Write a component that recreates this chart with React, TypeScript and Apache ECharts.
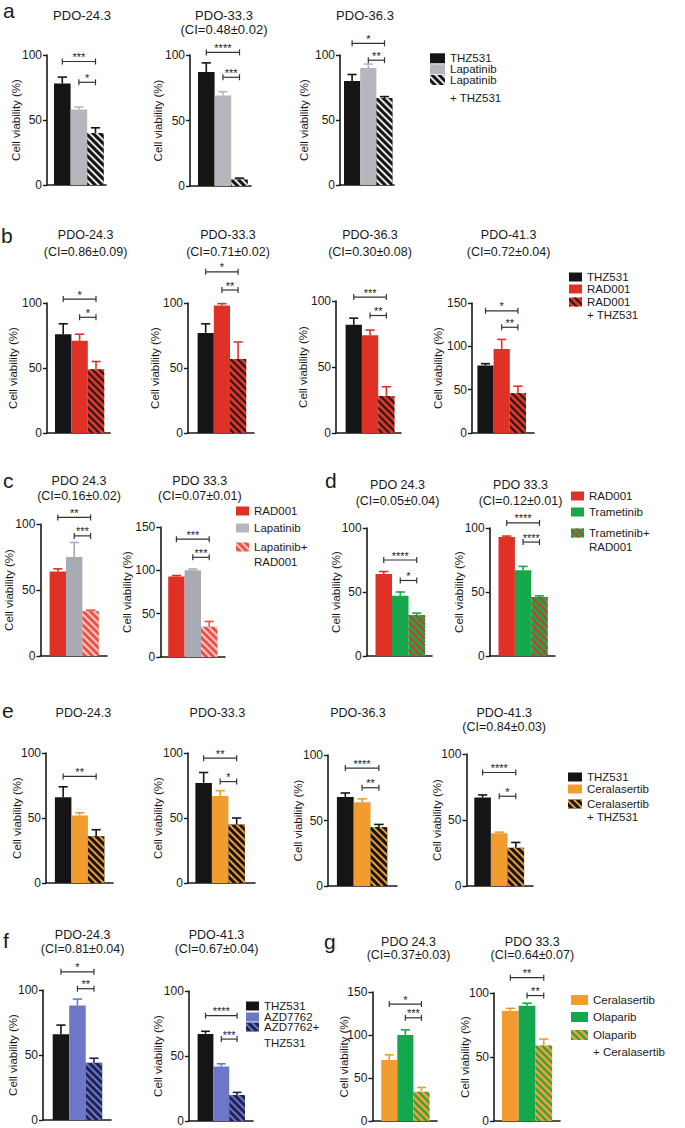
import React, { useEffect, useRef } from "react";
import * as echarts from "echarts";

// ---------------- DATA ----------------
// Panel a
const A_NAMES = ["THZ531", "Lapatinib", "Lapatinib\n+ THZ531"];
const A_TITLES = ["PDO-24.3", "PDO-33.3\n(CI=0.48±0.02)", "PDO-36.3"];
const A_MEANS = [[78, 58, 40], [87, 69, 5], [80, 90, 67]];
const A_ERRS = [[5, 2, 4], [7, 3, 1], [5, 3, 1]];
const A_SIGS: any[] = [
  [[0, 2, 95, "***"], [1, 2, 79, "*"]],
  [[0, 2, 102, "****"], [1, 2, 83, "***"]],
  [[0, 2, 109, "*"], [1, 2, 96, "**"]],
];
const A_YMAX = [100, 100, 100];

// Panel b
const B_NAMES = ["THZ531", "RAD001", "RAD001\n+ THZ531"];
const B_TITLES = ["PDO-24.3\n(CI=0.86±0.09)", "PDO-33.3\n(CI=0.71±0.02)", "PDO-36.3\n(CI=0.30±0.08)", "PDO-41.3\n(CI=0.72±0.04)"];
const B_MEANS = [[76, 71, 49], [77, 98, 57], [82, 74, 28], [78, 97, 46]];
const B_ERRS = [[8, 5, 6], [7, 1.5, 13], [5, 4, 7], [2, 11, 8]];
const B_SIGS: any[] = [
  [[0, 2, 103, "*"], [1, 2, 89, "*"]],
  [[0, 2, 124, "*"], [1, 2, 110, "**"]],
  [[0, 2, 103, "***"], [1, 2, 89, "**"]],
  [[0, 2, 141, "*"], [1, 2, 122, "**"]],
];
const B_YMAX = [100, 100, 100, 150];

// Panel c
const C_NAMES = ["RAD001", "Lapatinib", "Lapatinib+\nRAD001"];
const C_TITLES = ["PDO 24.3\n(CI=0.16±0.02)", "PDO 33.3\n(CI=0.07±0.01)"];
const C_MEANS = [[64, 75, 34], [93, 100, 35]];
const C_ERRS = [[2, 11, 0.7], [1, 1.5, 6]];
const C_SIGS: any[] = [
  [[0, 2, 105, "**"], [1, 2, 91, "***"]],
  [[0, 2, 136, "***"], [1, 2, 115, "***"]],
];
const C_YMAX = [100, 150];

// Panel d
const D_NAMES = ["RAD001", "Trametinib", "Trametinib+\nRAD001"];
const D_TITLES = ["PDO 24.3\n(CI=0.05±0.04)", "PDO 33.3\n(CI=0.12±0.01)"];
const D_MEANS = [[64, 47, 32], [93, 67, 46]];
const D_ERRS = [[2, 3, 1.5], [0.7, 3, 1]];
const D_SIGS: any[] = [
  [[0, 2, 75, "****"], [1, 2, 59, "*"]],
  [[0, 2, 104, "****"], [1, 2, 89, "****"]],
];
const D_YMAX = [100, 100];

// Panel e
const E_NAMES = ["THZ531", "Ceralasertib", "Ceralasertib\n+ THZ531"];
const E_TITLES = ["PDO-24.3", "PDO-33.3", "PDO-36.3", "PDO-41.3\n(CI=0.84±0.03)"];
const E_MEANS = [[66, 52, 36], [77, 67, 45], [68, 64, 45], [67, 40, 29]];
const E_ERRS = [[8, 2, 5], [8, 4, 5], [3, 2.5, 2], [2, 0.8, 4]];
const E_SIGS: any[] = [
  [[0, 2, 82, "**"]],
  [[0, 2, 96, "**"], [1, 2, 78, "*"]],
  [[0, 2, 90, "****"], [1, 2, 75, "**"]],
  [[0, 2, 86, "****"], [1, 2, 68, "*"]],
];
const E_YMAX = [100, 100, 100, 100];

// Panel f
const F_NAMES = ["THZ531", "AZD7762", "AZD7762+\nTHZ531"];
const F_TITLES = ["PDO-24.3\n(CI=0.81±0.04)", "PDO-41.3\n(CI=0.67±0.04)"];
const F_MEANS = [[66, 88, 44], [67, 42, 20]];
const F_ERRS = [[7, 5, 3.5], [2, 2, 2]];
const F_SIGS: any[] = [
  [[0, 2, 114, "*"], [1, 2, 101, "**"]],
  [[0, 2, 81, "****"], [1, 2, 63, "***"]],
];
const F_YMAX = [100, 100];

// Panel g
const G_NAMES = ["Ceralasertib", "Olaparib", "Olaparib\n+ Ceralasertib"];
const G_TITLES = ["PDO 24.3\n(CI=0.37±0.03)", "PDO 33.3\n(CI=0.64±0.07)"];
const G_MEANS = [[71, 100, 34], [86, 90, 59]];
const G_ERRS = [[6, 6, 5], [2, 2, 5]];
const G_SIGS: any[] = [
  [[0, 2, 136, "*"], [1, 2, 120, "***"]],
  [[0, 2, 112, "**"], [1, 2, 98, "**"]],
];
const G_YMAX = [150, 100];

const Y_LABEL = "Cell viability (%)";
const Y_INTERVAL = 50;

// ---------------- STYLES ----------------
const FONT = '"Liberation Sans", Arial, Helvetica, sans-serif';
const INK = "#1a1a1a";
const BLACK = "#151515";
const GRAY_A = "#b6b6bc";
const GRAY_C = "#a9abb4";
const RED = "#e03127";
const RED_LIGHT = "#ec5247";
const GREEN_D = "#17a84b";
const GREEN_G = "#13a84d";
const ORANGE = "#f29b2e";
const BLUE = "#6d77c8";
const NAVY = "#1f2452";

const A_STYLES = [{ color: BLACK }, { color: GRAY_A }, { color: BLACK, stripe: "#e6e6e6" }];
const B_STYLES = [{ color: BLACK }, { color: RED }, { color: RED, stripe: "#1a1a1a" }];
const C_STYLES = [{ color: RED }, { color: GRAY_C }, { color: RED_LIGHT, stripe: "rgba(255,255,255,0.7)" }];
const D_STYLES = [{ color: RED }, { color: GREEN_D }, { color: GREEN_D, stripe: RED }];
const E_STYLES = [{ color: BLACK }, { color: ORANGE }, { color: BLACK, stripe: ORANGE }];
const F_STYLES = [{ color: BLACK }, { color: BLUE }, { color: NAVY, stripe: BLUE }];
const G_STYLES = [{ color: ORANGE }, { color: GREEN_G }, { color: ORANGE, stripe: GREEN_G }];

// ---------------- LAYOUT (px) ----------------
const A_LAYOUT = [
  { x: 47, end: 106, top: 55, y0: 185, bar0: 54, bw: 16.6, ng: 25 },
  { x: 190, end: 251, top: 55, y0: 186, bar0: 198, bw: 16.6, ng: 26 },
  { x: 340, end: 394, top: 55, y0: 185, bar0: 344, bw: 16.2, ng: 30 },
];
const B_LAYOUT = [
  { x: 47, end: 110, top: 303, y0: 433, bar0: 55, bw: 16.4, ng: 28 },
  { x: 188, end: 254, top: 303, y0: 433, bar0: 197.6, bw: 16.2, ng: 27 },
  { x: 336, end: 401, top: 301, y0: 433, bar0: 345.6, bw: 16.3, ng: 27 },
  { x: 472, end: 534, top: 303, y0: 433, bar0: 477.4, bw: 16.2, ng: 28 },
];
const C_LAYOUT = [
  { x: 40.4, end: 107, top: 524, y0: 656, bar0: 49.6, bw: 16.4, ng: 25 },
  { x: 160.3, end: 225, top: 527, y0: 657, bar0: 168.2, bw: 16.4, ng: 27 },
];
const D_LAYOUT = [
  { x: 366.7, end: 432, top: 528, y0: 656, bar0: 375.5, bw: 16.5, ng: 25 },
  { x: 489.7, end: 555, top: 528, y0: 656, bar0: 498.5, bw: 16.4, ng: 25 },
];
const E_LAYOUT = [
  { x: 46, end: 113, top: 753, y0: 883, bar0: 54.9, bw: 16.5, ng: 23 },
  { x: 188, end: 255, top: 753, y0: 883, bar0: 195.4, bw: 16.5, ng: 24 },
  { x: 328, end: 397, top: 755, y0: 886, bar0: 336.9, bw: 16.8, ng: 24 },
  { x: 466.4, end: 533, top: 754, y0: 886, bar0: 474.3, bw: 16.6, ng: 23 },
];
const F_LAYOUT = [
  { x: 43, end: 111, top: 990, y0: 1120, bar0: 52.7, bw: 16.5, ng: 24 },
  { x: 188.9, end: 253, top: 991, y0: 1121, bar0: 197.6, bw: 15.8, ng: 25 },
];
const G_LAYOUT = [
  { x: 372.4, end: 437, top: 992, y0: 1121, bar0: 381.2, bw: 16.1, ng: 22 },
  { x: 494, end: 560, top: 993, y0: 1121, bar0: 502, bw: 16.7, ng: 23 },
];

const A_TITLE_POS = [[82, 15], [224, 15], [365, 15]];
const B_TITLE_POS = [[85.6, 235], [228, 235], [370, 235], [508.6, 235]];
const C_TITLE_POS = [[79, 481], [199.8, 481]];
const D_TITLE_POS = [[397.5, 485], [520.5, 485]];
const E_TITLE_POS = [[83.4, 713], [217.4, 713], [358, 713], [504.2, 713]];
const F_TITLE_POS = [[82.6, 935], [216.5, 935]];
const G_TITLE_POS = [[408.5, 942], [532.3, 942]];

const A_LEGEND = { x: 430, w: 15, h: 10, rows: [58.3, 69.3, 80], lh2: 17.7 };
const B_LEGEND = { x: 569, w: 13, h: 9, rows: [277, 289, 302], lh2: 13 };
const C_LEGEND = { x: 236, w: 13, h: 9, rows: [511, 528, 547], lh2: 15 };
const D_LEGEND = { x: 571, w: 13, h: 9, rows: [496, 512, 533], lh2: 14 };
const E_LEGEND = { x: 568, w: 14, h: 9, rows: [777, 789, 804], lh2: 13 };
const F_LEGEND = { x: 246, w: 13, h: 9, rows: [1006, 1017, 1027], lh2: 16 };
const G_LEGEND = { x: 571, w: 17, h: 10, rows: [1000, 1017, 1035], lh2: 17 };

const PANELS = [
  { letter: "a", lp: [3, 0], names: A_NAMES, titles: A_TITLES, means: A_MEANS, errs: A_ERRS, sigs: A_SIGS, ymax: A_YMAX, styles: A_STYLES, layout: A_LAYOUT, tpos: A_TITLE_POS, tlh: 14, tfs: 13, legend: A_LEGEND },
  { letter: "b", lp: [1, 225], names: B_NAMES, titles: B_TITLES, means: B_MEANS, errs: B_ERRS, sigs: B_SIGS, ymax: B_YMAX, styles: B_STYLES, layout: B_LAYOUT, tpos: B_TITLE_POS, tlh: 17, tfs: 12.5, legend: B_LEGEND },
  { letter: "c", lp: [3, 470], names: C_NAMES, titles: C_TITLES, means: C_MEANS, errs: C_ERRS, sigs: C_SIGS, ymax: C_YMAX, styles: C_STYLES, layout: C_LAYOUT, tpos: C_TITLE_POS, tlh: 14.5, tfs: 12.5, legend: C_LEGEND },
  { letter: "d", lp: [325, 470], names: D_NAMES, titles: D_TITLES, means: D_MEANS, errs: D_ERRS, sigs: D_SIGS, ymax: D_YMAX, styles: D_STYLES, layout: D_LAYOUT, tpos: D_TITLE_POS, tlh: 15.5, tfs: 12.5, legend: D_LEGEND },
  { letter: "e", lp: [2, 700], names: E_NAMES, titles: E_TITLES, means: E_MEANS, errs: E_ERRS, sigs: E_SIGS, ymax: E_YMAX, styles: E_STYLES, layout: E_LAYOUT, tpos: E_TITLE_POS, tlh: 14, tfs: 12.5, legend: E_LEGEND },
  { letter: "f", lp: [3, 930], names: F_NAMES, titles: F_TITLES, means: F_MEANS, errs: F_ERRS, sigs: F_SIGS, ymax: F_YMAX, styles: F_STYLES, layout: F_LAYOUT, tpos: F_TITLE_POS, tlh: 14.3, tfs: 12.5, legend: F_LEGEND },
  { letter: "g", lp: [324, 931], names: G_NAMES, titles: G_TITLES, means: G_MEANS, errs: G_ERRS, sigs: G_SIGS, ymax: G_YMAX, styles: G_STYLES, layout: G_LAYOUT, tpos: G_TITLE_POS, tlh: 13.3, tfs: 12.5, legend: G_LEGEND },
];

const LEGEND_FS = 11.5;

function decalOf(stripe: string) {
  return {
    symbol: "rect",
    symbolSize: 1,
    color: stripe,
    dashArrayX: [1, 0],
    dashArrayY: [2, 2.4],
    rotation: Math.PI / 4,
  };
}

function buildOption() {
  const grid: any[] = [];
  const xAxis: any[] = [];
  const yAxis: any[] = [];
  const series: any[] = [];
  const graphic: any[] = [];
  const legend: any[] = [];
  let gi = 0;

  PANELS.forEach((p) => {
    graphic.push({
      type: "text",
      x: p.lp[0],
      y: p.lp[1],
      silent: true,
      style: { text: p.letter, fontSize: 21, lineHeight: 21, fontFamily: FONT, fill: INK, align: "left", textAlign: "left", verticalAlign: "top", textVerticalAlign: "top" },
    });

    p.means.forEach((vals: number[], c: number) => {
      const L: any = p.layout[c];
      const xmin = -0.5 - (L.bar0 - L.x) / L.bw;
      const xmax = xmin + (L.end - L.x) / L.bw;
      grid.push({ left: L.x, top: L.top, width: L.end - L.x, height: L.y0 - L.top, outerBoundsMode: "none", containLabel: false });
      xAxis.push({
        type: "value",
        gridIndex: gi,
        min: xmin,
        max: xmax,
        axisLine: { show: true, onZero: false, lineStyle: { color: INK, width: 1.6 } },
        axisTick: { show: false },
        axisLabel: { show: false },
        splitLine: { show: false },
      });
      yAxis.push({
        type: "value",
        gridIndex: gi,
        min: 0,
        max: p.ymax[c],
        interval: Y_INTERVAL,
        axisLine: { show: true, onZero: false, lineStyle: { color: INK, width: 1.6 } },
        axisTick: { show: true, inside: false, length: 4, lineStyle: { color: INK, width: 1.4 } },
        axisLabel: { show: true, fontSize: 12, color: INK, fontFamily: FONT, margin: 5 },
        splitLine: { show: false },
        name: Y_LABEL,
        nameLocation: "middle",
        nameGap: L.ng,
        nameMoveOverlap: false,
        nameTextStyle: { fontSize: 11.5, color: INK, fontFamily: FONT },
      });

      vals.forEach((v: number, i: number) => {
        const st: any = p.styles[i];
        const itemStyle: any = { color: st.color };
        if (st.stripe) itemStyle.decal = decalOf(st.stripe);
        series.push({
          type: "bar",
          name: p.names[i],
          xAxisIndex: gi,
          yAxisIndex: gi,
          data: [[i, v]],
          barWidth: L.bw,
          barGap: "-100%",
          itemStyle,
          silent: true,
          z: 2,
        });
      });

      const bw = L.bw;
      series.push({
        type: "custom",
        name: "err",
        xAxisIndex: gi,
        yAxisIndex: gi,
        silent: true,
        clip: false,
        z: 3,
        encode: { x: 0, y: 1 },
        data: vals.map((v: number, i: number) => ({ value: [i, v, p.errs[c][i]], itemStyle: { color: (p.styles[i] as any).color } })),
        renderItem: (params: any, api: any) => {
          const x = api.value(0);
          const m = api.value(1);
          const e = api.value(2);
          const a = api.coord([x, m]);
          const b = api.coord([x, m + e]);
          const hw = bw * 0.28;
          const color = api.visual("color");
          return {
            type: "group",
            children: [
              { type: "line", shape: { x1: a[0], y1: a[1], x2: b[0], y2: b[1] }, style: { stroke: color, lineWidth: 1.6 } },
              { type: "line", shape: { x1: b[0] - hw, y1: b[1], x2: b[0] + hw, y2: b[1] }, style: { stroke: color, lineWidth: 1.6 } },
            ],
          };
        },
      });

      const sigs = p.sigs[c];
      series.push({
        type: "custom",
        name: "sig",
        xAxisIndex: gi,
        yAxisIndex: gi,
        silent: true,
        clip: false,
        z: 3,
        encode: { x: [0, 1], y: 2 },
        data: sigs.map((s: any[]) => [s[0], s[1], s[2]]),
        renderItem: (params: any, api: any) => {
          const s = sigs[params.dataIndex];
          const p1 = api.coord([api.value(0), api.value(2)]);
          const p2 = api.coord([api.value(1), api.value(2)]);
          const col = "#333";
          return {
            type: "group",
            children: [
              { type: "line", shape: { x1: p1[0], y1: p1[1], x2: p2[0], y2: p2[1] }, style: { stroke: col, lineWidth: 1.2 } },
              { type: "line", shape: { x1: p1[0], y1: p1[1] - 3, x2: p1[0], y2: p1[1] + 3 }, style: { stroke: col, lineWidth: 1.2 } },
              { type: "line", shape: { x1: p2[0], y1: p2[1] - 3, x2: p2[0], y2: p2[1] + 3 }, style: { stroke: col, lineWidth: 1.2 } },
              {
                type: "text",
                style: {
                  text: s[3],
                  x: (p1[0] + p2[0]) / 2,
                  y: p1[1] + 1,
                  fontSize: 11,
                  fontFamily: FONT,
                  fill: "#222",
                  align: "center",
                  textAlign: "center",
                  verticalAlign: "bottom",
                  textVerticalAlign: "bottom",
                },
              },
            ],
          };
        },
      });

      const t = p.tpos[c];
      graphic.push({
        type: "text",
        x: t[0],
        y: t[1] - p.tlh / 2,
        silent: true,
        style: {
          text: p.titles[c],
          fontSize: p.tfs,
          lineHeight: p.tlh,
          fontFamily: FONT,
          fill: INK,
          align: "center",
          textAlign: "center",
          verticalAlign: "top",
          textVerticalAlign: "top",
        },
      });
      gi++;
    });

    // legend: one component per item so rows sit exactly where the reference has them;
    // the second line of a two-line label is written just beneath its first line.
    const lg = p.legend;
    p.names.forEach((nm: string, i: number) => {
      const lines = nm.split("\n");
      const lh = 12;
      const comp: any = {
        data: [nm],
        left: lg.x,
        top: lg.rows[i] - lh / 2,
        orient: "vertical",
        padding: 0,
        itemGap: 0,
        itemWidth: lg.w,
        itemHeight: lg.h,
        icon: "rect",
        selectedMode: false,
        textStyle: { fontSize: LEGEND_FS, color: INK, fontFamily: FONT, lineHeight: lh },
      };
      if (lines.length > 1) {
        comp.formatter = (name: string) => name.split("\n")[0];
        graphic.push({
          type: "text",
          x: lg.x + lg.w + 5,
          y: lg.rows[i] + lg.lh2,
          silent: true,
          style: {
            text: lines[1],
            fontSize: LEGEND_FS,
            fontFamily: FONT,
            fill: INK,
            align: "left",
            textAlign: "left",
            verticalAlign: "middle",
            textVerticalAlign: "middle",
          },
        });
      }
      legend.push(comp);
    });
  });

  return {
    animation: false,
    backgroundColor: "#ffffff",
    grid,
    xAxis,
    yAxis,
    series,
    graphic,
    legend,
  };
}

export default function App() {
  const ref = useRef<HTMLDivElement>(null);
  useEffect(() => {
    document.body.style.margin = "0";
    const chart = echarts.init(ref.current as HTMLDivElement, null, { renderer: "svg" });
    chart.setOption(buildOption() as any);
    return () => chart.dispose();
  }, []);
  return <div ref={ref} style={{ width: 685, height: 1128, background: "#fff" }} />;
}
